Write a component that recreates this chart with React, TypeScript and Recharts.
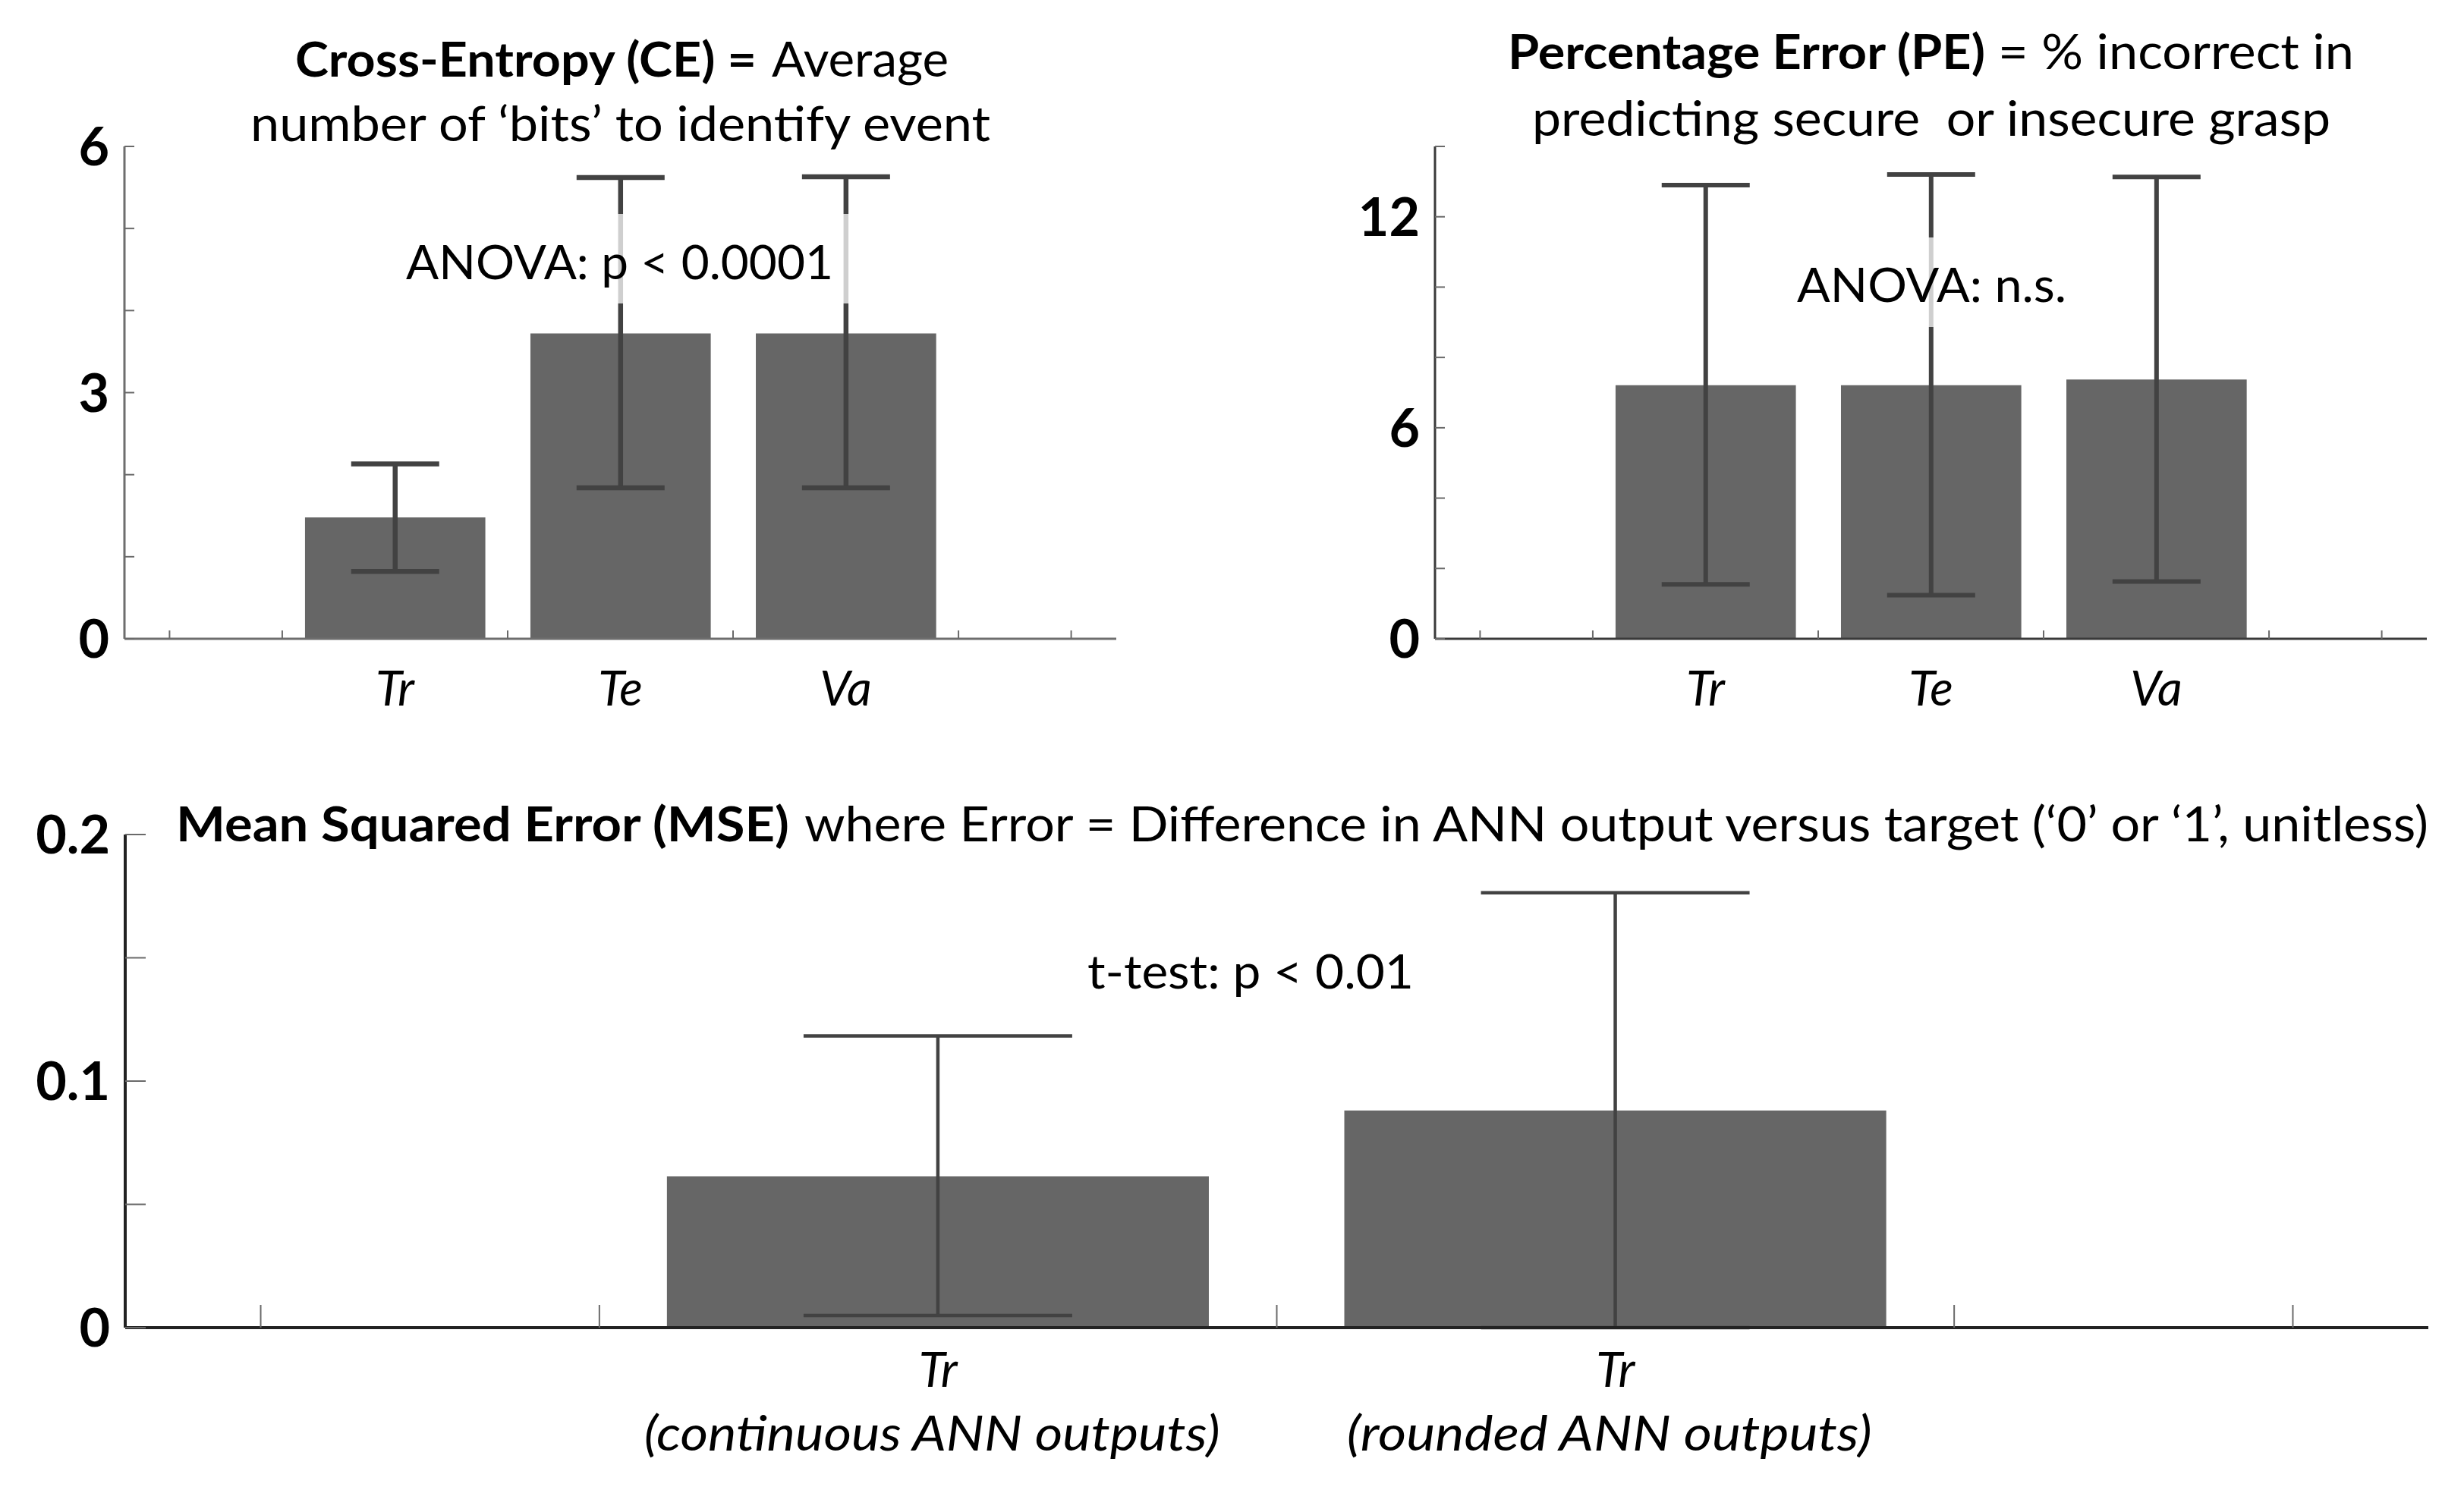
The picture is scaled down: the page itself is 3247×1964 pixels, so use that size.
import React from 'react';
import { BarChart, Bar, XAxis, YAxis, ErrorBar } from 'recharts';

const FONT = 'Lato, "Open Sans", "DejaVu Sans", sans-serif';

// ---------- data ----------
const ceCategories = ['Tr', 'Te', 'Va'];
const ceMeans = [1.48, 3.72, 3.72];
const ceLower = [0.82, 1.84, 1.84];
const ceUpper = [2.13, 5.62, 5.63];
const ceYTicks = [0, 1, 2, 3, 4, 5, 6];
const ceYLabels = [0, 3, 6];

const peCategories = ['Tr', 'Te', 'Va'];
const peMeans = [7.21, 7.21, 7.37];
const peLower = [1.55, 1.24, 1.63];
const peUpper = [12.9, 13.2, 13.13];
const peYTicks = [0, 2, 4, 6, 8, 10, 12, 14];
const peYLabels = [0, 6, 12];

const mseCategories = ['Tr', 'Tr'];
const mseSubLabels = ['(continuous ANN outputs)', '(rounded ANN outputs)'];
const mseMeans = [0.0614, 0.0881];
const mseLower = [0.0049, 0.0];
const mseUpper = [0.1183, 0.1764];
const mseYTicks = [0, 0.05, 0.1, 0.15, 0.2];
const mseYLabels = [0, 0.1, 0.2];

const ceNote = 'ANOVA: p < 0.0001';
const peNote = 'ANOVA: n.s.';
const mseNote = 't-test: p < 0.01';

// ---------- helpers ----------
function buildRows(cats: string[], means: number[], lo: number[], hi: number[], subs?: string[]) {
  return cats.map((c, i) => ({
    pos: i + 2,
    label: c,
    sub: subs ? subs[i] : '',
    mean: means[i],
    err: [means[i] - lo[i], hi[i] - means[i]],
  }));
}

function visibleXTicks(n: number) {
  const t: number[] = [];
  for (let v = 1; v <= n + 2 + 1e-9; v += 0.5) t.push(v);
  return t;
}
function barXTicks(n: number) {
  const t: number[] = [];
  for (let v = 1; v <= n + 2; v += 1) t.push(v);
  return t;
}

function makeYTick(labels: number[], len: number, fontSize: number) {
  return (props: any) => {
    const { x, y, payload } = props;
    const v = payload.value;
    const show = labels.some((l) => Math.abs(l - v) < 1e-9);
    return (
      <g>
        <line x1={x} y1={y} x2={x + len} y2={y} stroke="#6a6a6a" strokeWidth={2} />
        {show && (
          <text x={x - 20} y={y} dy="0.36em" textAnchor="end" fontFamily={FONT} fontWeight={700} fontSize={fontSize} fill="#000">
            {String(v)}
          </text>
        )}
      </g>
    );
  };
}

function makeXTick(rows: any[], len: number, fontSize: number, labelDy: number, subDy: number, subLens?: number[]) {
  return (props: any) => {
    const { x, y, payload } = props;
    const v = payload.value;
    const idx = Math.round(v) - 2;
    const isBar = Math.abs(v - Math.round(v)) < 1e-9 && idx >= 0 && idx < rows.length;
    if (!isBar) {
      return <line x1={x} y1={y} x2={x} y2={y - len} stroke="#6a6a6a" strokeWidth={2} />;
    }
    const r = rows[idx];
    return (
      <g>
        <text x={x} y={y + labelDy} textAnchor="middle" fontFamily={FONT} fontStyle="italic" fontSize={fontSize} fill="#000">
          {r.label}
        </text>
        {r.sub && (
          <text
            x={x - 8}
            y={y + subDy}
            textAnchor="middle"
            fontFamily={FONT}
            fontStyle="italic"
            fontSize={fontSize}
            fill="#000"
            textLength={subLens ? subLens[idx] : undefined}
            lengthAdjust="spacingAndGlyphs"
          >
            {r.sub}
          </text>
        )}
      </g>
    );
  };
}

type PanelProps = {
  rows: any[];
  width: number;
  height: number;
  plot: { l: number; r: number; t: number; b: number };
  xAxisHeight: number;
  yDomain: [number, number];
  yTicks: number[];
  yLabels: number[];
  yTickLen: number;
  xTickLen: number;
  axisColor: string;
  axisWidth: number;
  errHalf: number;
  errStroke: number;
  labelDy: number;
  subDy: number;
  subLens?: number[];
};

function Panel(p: PanelProps) {
  const n = p.rows.length;
  const yW = 150;
  const margin = {
    top: p.plot.t,
    left: p.plot.l - yW,
    right: p.width - p.plot.r,
    bottom: p.height - p.plot.b - p.xAxisHeight,
  };
  const domain: [number, number] = [0.8, n + 2.2];
  const barSize = (0.8 * (p.plot.r - p.plot.l)) / (domain[1] - domain[0]);
  return (
    <BarChart width={p.width} height={p.height} data={p.rows} margin={margin}>
      <XAxis
        xAxisId="v"
        type="number"
        dataKey="pos"
        domain={domain}
        allowDataOverflow
        ticks={visibleXTicks(n)}
        interval={0}
        tickSize={0}
        tickMargin={0}
        tickLine={false}
        height={p.xAxisHeight}
        axisLine={{ stroke: p.axisColor, strokeWidth: p.axisWidth }}
        tick={makeXTick(p.rows, p.xTickLen, 64, p.labelDy, p.subDy, p.subLens)}
      />
      <XAxis xAxisId="b" type="number" dataKey="pos" domain={domain} allowDataOverflow ticks={barXTicks(n)} height={0} hide />
      <YAxis
        type="number"
        domain={p.yDomain}
        allowDataOverflow
        ticks={p.yTicks}
        interval={0}
        width={yW}
        tickSize={0}
        tickMargin={0}
        tickLine={false}
        axisLine={{ stroke: p.axisColor, strokeWidth: p.axisWidth }}
        tick={makeYTick(p.yLabels, p.yTickLen, 70)}
      />
      <Bar dataKey="mean" xAxisId="b" fill="#666666" barSize={barSize} isAnimationActive={false}>
        <ErrorBar dataKey="err" direction="y" width={p.errHalf} stroke="#424242" strokeWidth={p.errStroke} isAnimationActive={false} />
      </Bar>
    </BarChart>
  );
}

const ceRows = buildRows(ceCategories, ceMeans, ceLower, ceUpper);
const peRows = buildRows(peCategories, peMeans, peLower, peUpper);
const mseRows = buildRows(mseCategories, mseMeans, mseLower, mseUpper, mseSubLabels);

export default function App() {
  const T = { fontFamily: FONT, fill: '#000' } as const;
  return (
    <div style={{ position: 'absolute', left: 0, top: 0, width: 3247, height: 1964, background: '#fff', overflow: 'hidden' }}>
      <div style={{ position: 'absolute', left: 0, top: 0 }}>
        <Panel
          rows={ceRows}
          width={1560}
          height={1000}
          plot={{ l: 164, r: 1471, t: 193, b: 842 }}
          xAxisHeight={120}
          yDomain={[0, 6]}
          yTicks={ceYTicks}
          yLabels={ceYLabels}
          yTickLen={13}
          xTickLen={11}
          axisColor="#6e6e6e"
          axisWidth={3}
          errHalf={58}
          errStroke={6.5}
          labelDy={88}
          subDy={0}
        />
      </div>
      <div style={{ position: 'absolute', left: 1700, top: 0 }}>
        <Panel
          rows={peRows}
          width={1547}
          height={1000}
          plot={{ l: 191, r: 1498, t: 193, b: 842 }}
          xAxisHeight={120}
          yDomain={[0, 14]}
          yTicks={peYTicks}
          yLabels={peYLabels}
          yTickLen={13}
          xTickLen={11}
          axisColor="#3a3a3a"
          axisWidth={3}
          errHalf={58}
          errStroke={6}
          labelDy={88}
          subDy={0}
        />
      </div>
      <div style={{ position: 'absolute', left: 0, top: 1000 }}>
        <Panel
          rows={mseRows}
          width={3247}
          height={964}
          plot={{ l: 165, r: 3200, t: 100, b: 750 }}
          xAxisHeight={200}
          yDomain={[0, 0.2]}
          yTicks={mseYTicks}
          yLabels={mseYLabels}
          yTickLen={27}
          xTickLen={30}
          axisColor="#222222"
          axisWidth={4}
          errHalf={177}
          errStroke={4.5}
          labelDy={78}
          subDy={162}
          subLens={[759, 692]}
        />
      </div>
      <svg style={{ position: 'absolute', left: 0, top: 0, pointerEvents: 'none' }} width={3247} height={1964}>
        {/* CE title */}
        <text x={389} y={101} {...T} fontWeight={700} fontSize={63} textLength={608} lengthAdjust="spacingAndGlyphs">Cross-Entropy (CE) =</text>
        <text x={1017} y={101} {...T} fontSize={63} textLength={233} lengthAdjust="spacingAndGlyphs">Average</text>
        <text x={330} y={186} {...T} fontSize={63} textLength={975} lengthAdjust="spacingAndGlyphs">number of ‘bits’ to identify event</text>
        {/* PE title */}
        <text x={1987} y={91} {...T} fontWeight={700} fontSize={63} textLength={629} lengthAdjust="spacingAndGlyphs">Percentage Error (PE)</text>
        <text x={2633} y={91} {...T} fontSize={63} textLength={469} lengthAdjust="spacingAndGlyphs">= % incorrect in</text>
        <text x={2019} y={179} {...T} fontSize={63} textLength={1052} lengthAdjust="spacingAndGlyphs" style={{ whiteSpace: 'pre' }}>predicting secure  or insecure grasp</text>
        {/* MSE title */}
        <text x={232} y={1109} {...T} fontWeight={700} fontSize={64} textLength={808} lengthAdjust="spacingAndGlyphs">Mean Squared Error (MSE)</text>
        <text x={1060} y={1109} {...T} fontSize={64} textLength={2140} lengthAdjust="spacingAndGlyphs">where Error = Difference in ANN output versus target (‘0’ or ‘1’, unitless)</text>
        {/* annotations */}
        <rect x={512} y={282} width={614} height={118} fill="#ffffff" fillOpacity={0.75} />
        <text x={535} y={368} {...T} fontSize={61} textLength={563} lengthAdjust="spacingAndGlyphs">{ceNote}</text>
        <rect x={2345} y={313} width={402} height={118} fill="#ffffff" fillOpacity={0.75} />
        <text x={2368} y={398} {...T} fontSize={61} textLength={355} lengthAdjust="spacingAndGlyphs">{peNote}</text>
        <text x={1433} y={1303} {...T} fontSize={61} textLength={430} lengthAdjust="spacingAndGlyphs">{mseNote}</text>
      </svg>
    </div>
  );
}
